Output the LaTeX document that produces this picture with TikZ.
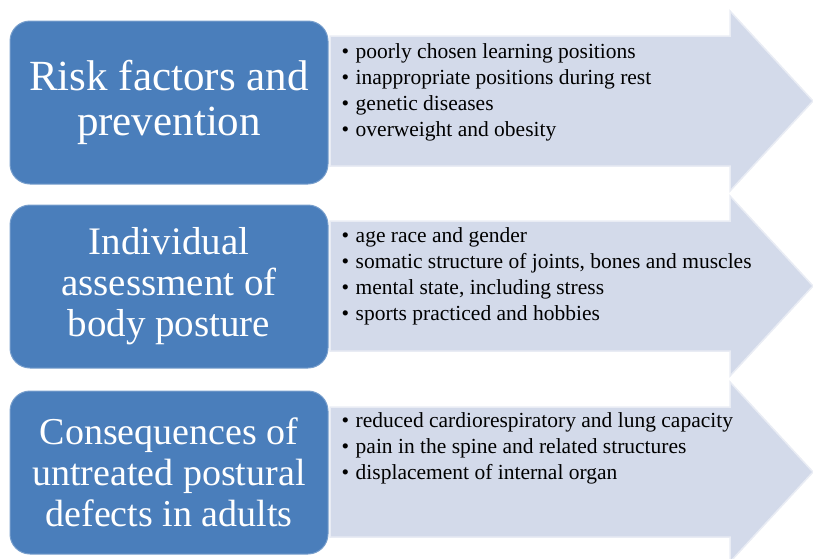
\documentclass[tikz,border=0pt]{standalone}
\usepackage{fontspec}
\setmainfont{Liberation Serif}
\usetikzlibrary{positioning}
\definecolor{boxblue}{HTML}{4A7EBB}
\definecolor{bandgrey}{HTML}{D3DAEA}
\tikzset{
  titlebox/.style={rectangle, rounded corners=20pt, fill=boxblue, draw=boxblue!75!white,
                   line width=1pt, text=white, align=center, inner sep=0pt,
                   minimum width=318pt, minimum height=163pt,
                   font=\fontsize{39}{41}\selectfont},
  band/.style={fill=bandgrey, draw=white!50!bandgrey, line width=1.5pt},
  items/.style={align=left, inner sep=0pt, font=\fontsize{21.5}{26}\selectfont},
}
\newcommand{\itm}{\textbullet\hspace{6.5pt}}

\begin{document}
\begin{tikzpicture}[x=1pt, y=1pt]
  \useasboundingbox (0,0) rectangle (813,-558);
  % arrow bands behind the list texts
  \filldraw[band] (330,-36) -- (730,-36) -- (730,-11) -- (813,-101)
    -- (730,-191) -- (730,-166) -- (330,-166) -- cycle;
  \filldraw[band] (330,-221) -- (730,-221) -- (730,-196) -- (813,-286)
    -- (730,-376) -- (730,-351) -- (330,-351) -- cycle;
  \filldraw[band] (330,-407) -- (730,-407) -- (730,-382) -- (813,-472)
    -- (730,-562) -- (730,-537) -- (330,-537) -- cycle;

  % blue title boxes
  \node[titlebox, font=\fontsize{43}{45}\selectfont] (risk) at (169,-102.5)
    {Risk factors and\\prevention};
  \node[titlebox] (assess) at (169,-286.5) {Individual\\assessment of\\body posture};
  \node[titlebox, font=\fontsize{38}{41}\selectfont] (conseq) at (169,-472.5)
    {Consequences of\\untreated postural\\defects in adults};

  % bullet lists
  \node[items, right=13pt of risk.north east, anchor=north west, yshift=-22.5pt] (riskl)
    {\itm poorly chosen learning positions\\
     \itm inappropriate positions during rest\\
     \itm genetic diseases\\
     \itm overweight and obesity};
  \node[items, right=13pt of assess.north east, anchor=north west, yshift=-23pt] (assessl)
    {\itm age race and gender\\
     \itm somatic structure of joints, bones and muscles\\
     \itm mental state, including stress\\
     \itm sports practiced and hobbies};
  \node[items, right=13pt of conseq.north east, anchor=north west, yshift=-22pt] (conseql)
    {\itm reduced cardiorespiratory and lung capacity\\
     \itm pain in the spine and related structures\\
     \itm displacement of internal organ};
\end{tikzpicture}
\end{document}
